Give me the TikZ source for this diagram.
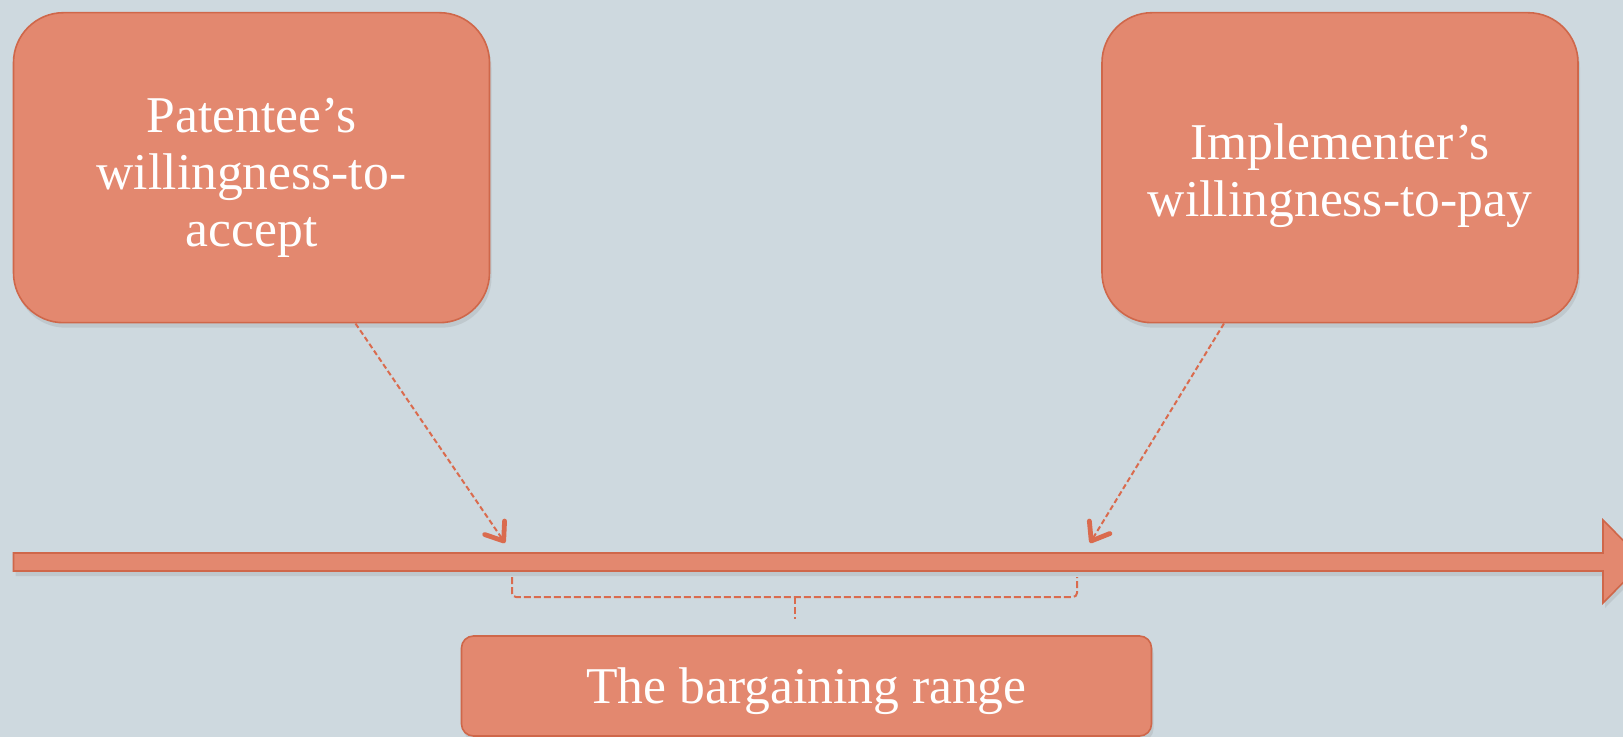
\documentclass[tikz,border=0pt]{standalone}
\usepackage{fontspec}
\setmainfont{Liberation Serif}
\usetikzlibrary{positioning,arrows.meta,shadows}
\definecolor{slate}{HTML}{CED9DF}
\definecolor{salmon}{HTML}{E3886F}
\definecolor{salmonedge}{HTML}{CF674A}
\definecolor{salmondash}{HTML}{DA6B4E}

\begin{document}
\begin{tikzpicture}[x=0.5pt, y=-0.5pt,
  soft/.style={drop shadow={opacity=0.18, shadow xshift=1pt, shadow yshift=-2.5pt}},
  party/.style={draw=salmonedge, line width=0.8pt, fill=salmon, soft,
      rounded corners=25pt, inner sep=0pt,
      minimum width=238pt, minimum height=155pt},
  partytext/.style={text=white, align=center,
      font=\fontsize{25.8}{28.5}\selectfont},
  rangebox/.style={party, rounded corners=6pt,
      minimum width=345pt, minimum height=50pt},
  pointer/.style={salmondash, line width=1pt, dash pattern=on 2.6pt off 1.5pt,
      -{Straight Barb[length=8pt, width=12pt, line width=2.4pt, round]}},
  rangeline/.style={salmondash, line width=1pt, dash pattern=on 3.5pt off 1.5pt,
      rounded corners=2pt}]
\useasboundingbox (0,0) rectangle (1623,737);
\fill[slate] (0,0) rectangle (1623,737);
\clip (0,0) rectangle (1623,737);

% price axis
\filldraw[draw=salmonedge, fill=salmon, line width=0.8pt, soft]
  (13.5,553) -- (1603,553) -- (1603,520) -- (1644,561.5)
  -- (1603,603) -- (1603,571) -- (13.5,571) -- cycle;

\node[party, label={[partytext, yshift=-5pt]center:Patentee's\\willingness-to-\\accept}]
  (wta) at (251.5,167.7) {};
\node[party, label={[partytext, yshift=-4pt]center:Implementer's\\willingness-to-pay}]
  (wtp) at (1340,167.7) {};
\node[rangebox, label={[partytext, yshift=-2.5pt]center:The bargaining range}]
  (range) at (806.5,686) {};

\coordinate (wtaTip) at (505,543);
\coordinate (wtpTip) at (1090,543);
\draw[pointer] ([xshift=52pt]wta.south) -- (wtaTip);
\draw[pointer] ([xshift=-58pt]wtp.south) -- (wtpTip);

% bracket under the axis
\coordinate (rngL) at (512,577);
\coordinate (rngR) at (1077,577);
\coordinate (rngM) at (795,597);
\coordinate (rngT) at (795,619);
\draw[rangeline] (rngL) |- (rngM) -| (rngR);
\draw[rangeline] (rngM) -- (rngT);
\end{tikzpicture}
\end{document}
